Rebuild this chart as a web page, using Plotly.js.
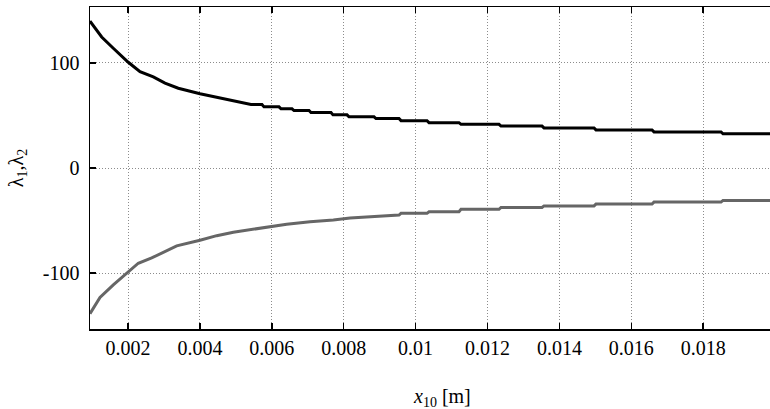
<!DOCTYPE html>
<html>
<head>
<meta charset="utf-8">
<script src="https://cdn.plot.ly/plotly-3.0.1.min.js"></script>
<style>
html,body{margin:0;padding:0;background:#fff;overflow:hidden;}
#chart{width:770px;height:409px;}
</style>
</head>
<body>
<div id="chart"></div>
<script>
// lambda_1 (black)
const lambda1X = [0.000943,0.001268,0.001591,0.002008,0.002334,0.002704,0.003029,0.003399,0.004003,0.004512,0.005068,
  0.005421,0.005727,0.005783,0.006200,0.006256,0.006562,0.006618,0.007035,0.007090,0.007647,0.007702,0.008092,
  0.008147,0.008843,0.008898,0.009538,0.009594,0.010317,0.010373,0.011207,0.011263,0.012320,0.012376,0.013516,
  0.013572,0.014963,0.015018,0.016576,0.016632,0.018496,0.018551,0.019858];
const lambda1Y = [139.6,124.5,113.8,100.5,91.5,86.5,80.6,75.8,70.6,66.7,62.5,
  60.3,60.3,58.1,58.1,56.2,56.2,54.6,54.6,52.7,52.7,50.5,50.5,
  48.6,48.6,47.0,47.0,45.0,45.0,43.1,43.1,41.5,41.5,39.8,39.8,
  38.1,38.1,36.2,36.2,34.3,34.3,32.5,32.5];

// lambda_2 (gray)
const lambda2X = [0.000943,0.001221,0.001591,0.002008,0.002286,0.002659,0.003077,0.003355,0.004003,0.004468,0.004930,
  0.005486,0.005998,0.006415,0.007063,0.007712,0.008177,0.009102,0.009538,0.009594,0.010317,0.010373,0.011207,
  0.011263,0.012320,0.012376,0.013516,0.013572,0.014963,0.015018,0.016576,0.016632,0.018496,0.018551,0.019858];
const lambda2Y = [-138.4,-123.0,-111.1,-98.6,-90.5,-85.5,-78.7,-74.0,-68.6,-64.3,-61.0,
  -58.0,-55.7,-53.5,-51.0,-49.4,-47.5,-45.3,-44.7,-43.1,-43.1,-41.6,-41.6,
  -39.3,-39.3,-37.5,-37.5,-36.0,-36.0,-34.3,-34.3,-32.4,-32.4,-30.8,-30.8];

const xTickVals = [0.002,0.004,0.006,0.008,0.01,0.012,0.014,0.016,0.018];
const xTickText = ['0.002','0.004','0.006','0.008','0.01','0.012','0.014','0.016','0.018'];
const yTickVals = [-100,0,100];
const yTickText = ['-100','0','100'];

const FAMILY = 'Liberation Serif, Times New Roman, serif';
function mkFont(){ return {family:FAMILY, size:20, color:'#000000'}; }

const traces = [
  {x:lambda1X, y:lambda1Y, type:'scatter', mode:'lines', line:{color:'#000000', width:3}, hoverinfo:'skip'},
  {x:lambda2X, y:lambda2Y, type:'scatter', mode:'lines', line:{color:'#666666', width:3}, hoverinfo:'skip'}
];

const layout = {
  width:770, height:409,
  margin:{l:90, r:0, t:7, b:80},
  paper_bgcolor:'#ffffff', plot_bgcolor:'#ffffff',
  showlegend:false,
  font:mkFont(),
  xaxis:{
    range:[0.000943, 0.019858],
    tickmode:'array', tickvals:xTickVals, ticktext:xTickText,
    ticks:'inside', ticklen:6, tickwidth:1.5, tickcolor:'#000000',
    showline:true, linecolor:'#000000', linewidth:1.5, mirror:'ticks',
    showgrid:true, gridcolor:'#8c8c8c', gridwidth:1, griddash:'1px,2px',
    zeroline:false, tickfont:mkFont()
  },
  yaxis:{
    range:[-153, 153],
    tickmode:'array', tickvals:yTickVals, ticktext:yTickText,
    ticks:'inside', ticklen:6, tickwidth:1.5, tickcolor:'#000000',
    showline:true, linecolor:'#000000', linewidth:1.5, mirror:false,
    showgrid:true, gridcolor:'#8c8c8c', gridwidth:1, griddash:'1px,2px',
    zeroline:false, tickfont:mkFont(), ticklabelstandoff:5
  },
  annotations:[
    {text:'<i>x</i><sub>10</sub> [m]', xref:'paper', yref:'paper', x:0.517, y:-0.2125,
     xanchor:'center', yanchor:'middle', showarrow:false, font:mkFont()},
    {text:'λ<sub>1</sub>,λ<sub>2</sub>', xref:'paper', yref:'paper', x:-0.107, y:0.5,
     xanchor:'center', yanchor:'middle', textangle:-90, showarrow:false, font:mkFont()}
  ]
};

Plotly.newPlot('chart', traces, layout, {staticPlot:true, displayModeBar:false});
</script>
</body>
</html>
